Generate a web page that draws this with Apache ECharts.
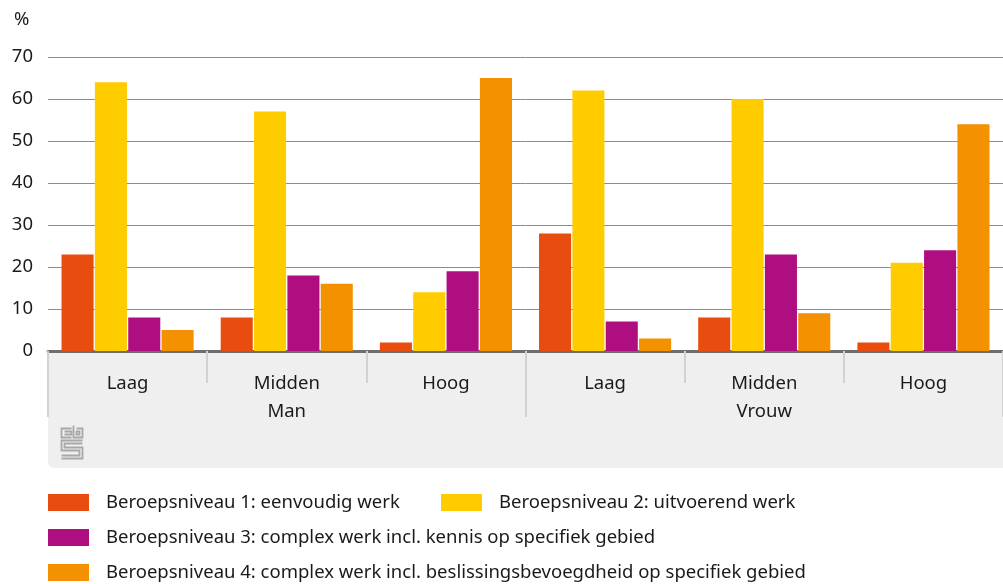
<!DOCTYPE html>
<html>
<head>
<meta charset="utf-8">
<script src="https://cdn.jsdelivr.net/npm/echarts@6/dist/echarts.min.js"></script>
<style>
html,body{margin:0;padding:0;background:#fff;}
#chart{width:1003px;height:584px;}
</style>
</head>
<body>
<div id="chart"></div>
<script>
const categories = ['Laag', 'Midden', 'Hoog', 'Laag', 'Midden', 'Hoog'];
const groups = ['Man', 'Vrouw'];
const seriesNames = [
  'Beroepsniveau 1: eenvoudig werk',
  'Beroepsniveau 2: uitvoerend werk',
  'Beroepsniveau 3: complex werk incl. kennis op specifiek gebied',
  'Beroepsniveau 4: complex werk incl. beslissingsbevoegdheid op specifiek gebied'
];
const niveau1 = [23, 8, 2, 28, 8, 2];
const niveau2 = [64, 57, 14, 62, 60, 21];
const niveau3 = [8, 18, 19, 7, 23, 24];
const niveau4 = [5, 16, 65, 3, 9, 54];
const colors = ['#e84c0e', '#ffcc00', '#af0e80', '#f39100'];
const yTicks = {min: 0, max: 70, interval: 10};

const FONT = 'Noto Sans';
const FS = 18.5;
const TXT = '#1a1a1a';

const chart = echarts.init(document.getElementById('chart'), null, {renderer: 'canvas'});
const values = [niveau1, niveau2, niveau3, niveau4];

const legendPos = [
  {left: 48, top: 493},
  {left: 441, top: 493},
  {left: 48, top: 528},
  {left: 48, top: 563}
];

const LOGO = '#a8a8a8';
const option = {
  animation: false,
  textStyle: {fontFamily: FONT},
  grid: {left: 48, right: 0, top: 57, bottom: 233, containLabel: false},
  graphic: [
    {
      type: 'rect', z: -100, silent: true,
      shape: {x: 48, y: 352, width: 960, height: 116, r: [0, 0, 0, 6]},
      style: {fill: '#efefef'}
    },
    {
      type: 'text', left: 14, top: 10,
      style: {text: '%', font: FS + 'px "Noto Sans"', fill: TXT}
    },
    {
      type: 'group', left: 59, top: 423, silent: true,
      children: [
        {type: 'polyline', shape: {points: [[11,3],[1,3],[1,12],[11,12]]}, style: {stroke: LOGO, lineWidth: 1.8, fill: null}},
        {type: 'polyline', shape: {points: [[4,6],[11,6],[11,9],[4,9]]}, style: {stroke: LOGO, lineWidth: 1.8, fill: null}},
        {type: 'polyline', shape: {points: [[13,0],[13,12],[22,12],[22,3],[16,3]]}, style: {stroke: LOGO, lineWidth: 1.8, fill: null}},
        {type: 'rect', shape: {x: 16, y: 6, width: 3, height: 3}, style: {stroke: LOGO, lineWidth: 1.8, fill: null}},
        {type: 'polyline', shape: {points: [[22,15],[1,15],[1,25],[19,25],[19,30],[1,30]]}, style: {stroke: LOGO, lineWidth: 1.8, fill: null}},
        {type: 'polyline', shape: {points: [[22,18],[4,18],[4,22],[22,22],[22,33],[1,33]]}, style: {stroke: LOGO, lineWidth: 1.8, fill: null}}
      ]
    }
  ],
  legend: seriesNames.map((n, i) => ({
    data: [n],
    left: legendPos[i].left,
    top: legendPos[i].top,
    orient: 'horizontal',
    padding: 0,
    itemWidth: 41,
    itemHeight: 17,
    itemStyle: {borderWidth: 0},
    icon: 'rect',
    selectedMode: false,
    textStyle: {fontFamily: FONT, fontSize: FS, color: TXT, padding: [0, 0, 0, 12]}
  })),
  xAxis: [
    {
      type: 'category',
      data: categories,
      axisLine: {show: true, lineStyle: {color: '#6e6e6e', width: 3}},
      axisTick: {show: true, length: 32, lineStyle: {color: '#d2d2d2', width: 2}},
      axisLabel: {fontFamily: FONT, fontSize: FS, color: TXT, margin: 23},
      splitLine: {show: false}
    },
    {
      type: 'category',
      data: groups,
      position: 'bottom',
      axisLine: {show: false},
      axisTick: {show: true, length: 66, lineStyle: {color: '#d2d2d2', width: 2}},
      axisLabel: {fontFamily: FONT, fontSize: FS, color: TXT, margin: 51},
      splitLine: {show: false}
    }
  ],
  yAxis: {
    type: 'value',
    min: yTicks.min, max: yTicks.max, interval: yTicks.interval,
    axisLine: {show: false},
    axisTick: {show: false},
    axisLabel: {fontFamily: FONT, fontSize: FS, color: TXT, margin: 15},
    splitLine: {lineStyle: {color: '#8c8c8c', width: 1}}
  },
  series: values.map((v, i) => ({
    name: seriesNames[i],
    type: 'bar',
    data: v,
    xAxisIndex: 0,
    itemStyle: {color: colors[i]},
    barGap: '4%',
    barCategoryGap: '17%'
  }))
};
chart.setOption(option);
</script>
</body>
</html>
